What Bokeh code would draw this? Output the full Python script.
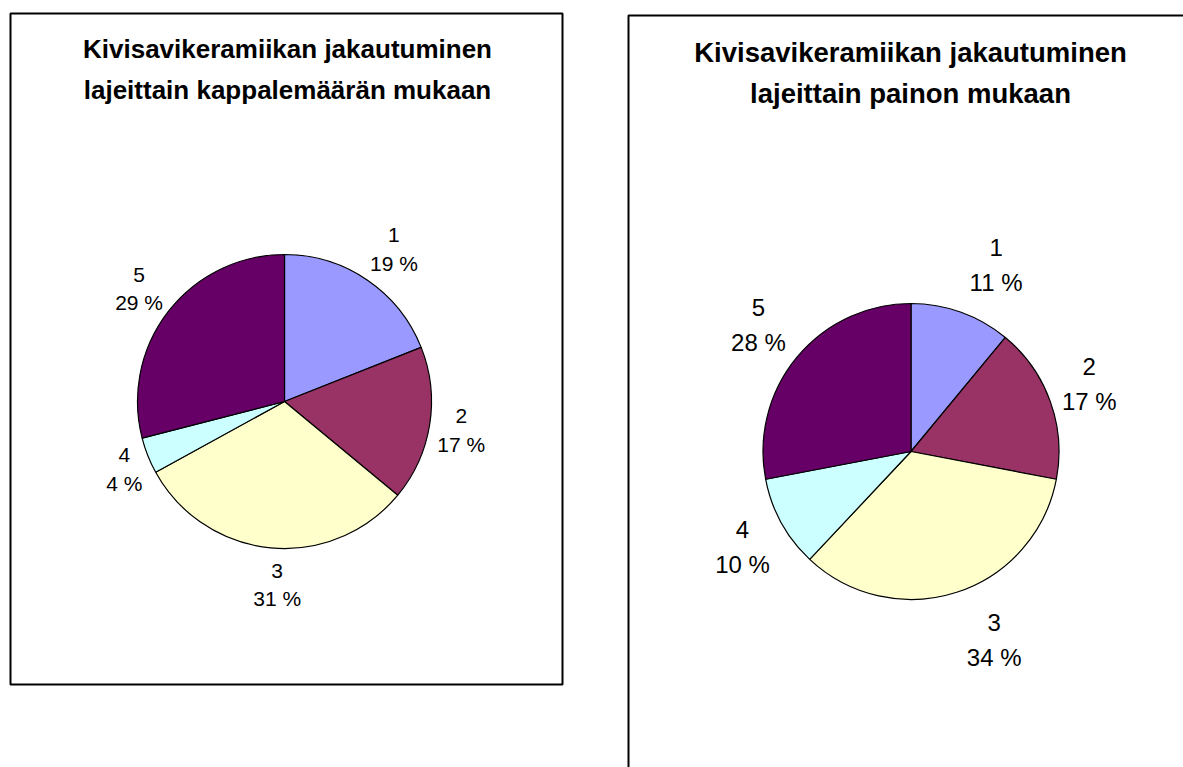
import numpy as np
from bokeh.plotting import figure
from bokeh.models import Range1d, ColumnDataSource
from bokeh.core.properties import value
from bokeh.embed import file_html
from bokeh.resources import INLINE

# ---- data ----
categories = ["1", "2", "3", "4", "5"]
count_values = [19, 17, 31, 4, 29]      # by number of pieces (%)
weight_values = [11, 17, 34, 10, 28]    # by weight (%)
slice_colors = ["#9999FF", "#993366", "#FFFFCC", "#CCFFFF", "#660066"]
title_left = ["Kivisavikeramiikan jakautuminen", "lajeittain kappalemäärän mukaan"]
title_right = ["Kivisavikeramiikan jakautuminen", "lajeittain painon mukaan"]

# label placement nudges (screen px, style only)
left_label_dx = [6, -5, 10, 11, 0]
right_label_dx = [18, -8, 22, 5, 0]

W, H = 1183, 767
FONT = "Liberation Sans"

def X(px):
    return px

def Y(py):
    return H - py

p = figure(width=W, height=H, x_range=Range1d(0, W), y_range=Range1d(0, H),
           output_backend="svg", toolbar_location=None, min_border=0,
           x_axis_type=None, y_axis_type=None)
p.outline_line_color = None
p.grid.visible = False
p.background_fill_color = "white"
p.border_fill_color = "white"

# panel borders
p.quad(left=[X(10)], right=[X(562)], top=[Y(13)], bottom=[Y(684)],
       fill_color=None, line_color="black", line_width=2)
p.quad(left=[X(628)], right=[X(1200)], top=[Y(15)], bottom=[Y(800)],
       fill_color=None, line_color="black", line_width=2)


def pie(vals, cx, cy, r, lab_r, lab_size, line_gap, nudges):
    vals = np.array(vals, dtype=float)
    frac = vals / vals.sum()
    cum = np.concatenate([[0], np.cumsum(frac)])
    start = np.pi / 2 - 2 * np.pi * cum[1:]
    end = np.pi / 2 - 2 * np.pi * cum[:-1]
    src = ColumnDataSource(dict(start=start, end=end, color=slice_colors))
    p.wedge(x=X(cx), y=Y(cy), radius=r, start_angle="start", end_angle="end",
            direction="anticlock", fill_color="color", line_color="black",
            line_width=1.2, source=src)
    mid = np.pi / 2 - 2 * np.pi * (cum[:-1] + frac / 2)
    lx = X(cx) + lab_r * np.cos(mid) + np.array(nudges, dtype=float)
    ly = Y(cy) + lab_r * np.sin(mid)
    pct = [f"{int(round(v))} %" for v in vals]
    lsrc = ColumnDataSource(dict(x=lx, y=ly, cat=categories, pct=pct))
    p.text(x="x", y="y", text="cat", source=lsrc, text_align="center",
           text_baseline="middle", text_font=value(FONT),
           text_font_size=lab_size, text_color="black", y_offset=-line_gap / 2)
    p.text(x="x", y="y", text="pct", source=lsrc, text_align="center",
           text_baseline="middle", text_font=value(FONT),
           text_font_size=lab_size, text_color="black", y_offset=line_gap / 2)


pie(count_values, 284, 401, 147, 184, "21px", 28, left_label_dx)
pie(weight_values, 910.5, 451, 148, 198, "24px", 35, right_label_dx)

# titles
p.text(x=[X(287), X(287)], y=[Y(48), Y(89)], text=title_left,
       text_align="center", text_baseline="middle", text_font=value(FONT),
       text_font_style="bold", text_font_size="26px", text_color="black")
p.text(x=[X(910), X(910)], y=[Y(52), Y(93)], text=title_right,
       text_align="center", text_baseline="middle", text_font=value(FONT),
       text_font_style="bold", text_font_size="27.5px", text_color="black")

open("out.html", "w").write(file_html(p, INLINE))
